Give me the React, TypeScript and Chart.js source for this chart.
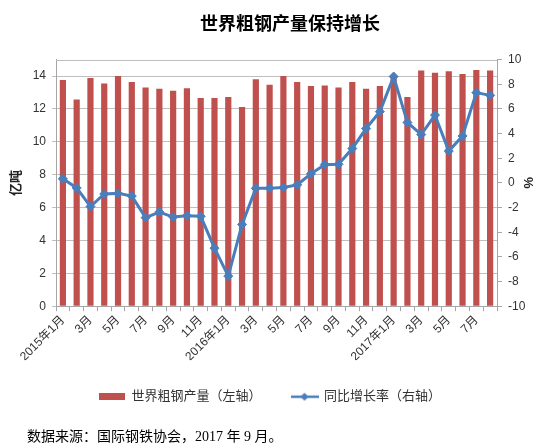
import { useEffect, useRef } from 'react';
import { Chart, registerables } from 'chart.js';

Chart.register(...registerables);

const TITLE = '世界粗钢产量保持增长';
const SOURCE = '数据来源：国际钢铁协会，2017 年 9 月。';
const SERIES_NAMES = ['世界粗钢产量（左轴）', '同比增长率（右轴）'];
const LEFT_AXIS_TITLE = '亿吨';
const RIGHT_AXIS_TITLE = '%';

const MONTHS = [
  '2015年1月', '2月', '3月', '4月', '5月', '6月', '7月', '8月', '9月', '10月', '11月', '12月',
  '2016年1月', '2月', '3月', '4月', '5月', '6月', '7月', '8月', '9月', '10月', '11月', '12月',
  '2017年1月', '2月', '3月', '4月', '5月', '6月', '7月', '8月',
];

// 世界粗钢产量（亿吨）
const PRODUCTION = [
  13.76, 12.57, 13.88, 13.55, 14.0, 13.63, 13.3, 13.22, 13.1, 13.26, 12.67, 12.67,
  12.73, 12.11, 13.8, 13.47, 14.0, 13.63, 13.39, 13.43, 13.3, 13.63, 13.22, 13.39,
  13.9, 12.73, 14.33, 14.2, 14.29, 14.13, 14.37, 14.33,
];

// 同比增长率（%）
const GROWTH = [
  0.33, -0.41, -1.92, -0.9, -0.85, -1.07, -2.82, -2.36, -2.77, -2.66, -2.71, -5.29,
  -7.56, -3.37, -0.44, -0.44, -0.38, -0.16, 0.74, 1.48, 1.51, 2.79, 4.41, 5.78,
  8.63, 4.9, 3.92, 5.5, 2.58, 3.81, 7.32, 7.1,
];

const LEFT_RANGE = [0, 15];
const LEFT_STEP = 2;
const RIGHT_RANGE = [-10, 10];
const RIGHT_STEP = 2;

const RED = '#C0504D';
const BLUE = '#4A7EBB';
const TEXT = '#333333';
const AXIS = '#A6A6A6';
const GRID = '#BFBFBF';
const FONT = '"Liberation Sans", "Noto Sans CJK SC", sans-serif';

export default function App() {
  const ref = useRef<HTMLCanvasElement | null>(null);

  useEffect(() => {
    document.body.style.margin = '0';
    const canvas = ref.current;
    if (!canvas) return;

    const barSwatch = document.createElement('canvas');
    barSwatch.width = 26;
    barSwatch.height = 7;
    {
      const c = barSwatch.getContext('2d')!;
      c.fillStyle = RED;
      c.fillRect(0, 0, 26, 7);
    }
    const lineSwatch = document.createElement('canvas');
    lineSwatch.width = 28;
    lineSwatch.height = 10;
    {
      const c = lineSwatch.getContext('2d')!;
      c.strokeStyle = BLUE;
      c.lineWidth = 2.5;
      c.beginPath();
      c.moveTo(0, 5);
      c.lineTo(28, 5);
      c.stroke();
      c.fillStyle = BLUE;
      c.beginPath();
      c.moveTo(14, 1);
      c.lineTo(18, 5);
      c.lineTo(14, 9);
      c.lineTo(10, 5);
      c.closePath();
      c.fill();
    }

    const layoutTweak = {
      id: 'layoutTweak',
      afterLayout(chart: any) {
        for (const box of chart.boxes) {
          const t = box.options && box.options.text;
          if (t === TITLE) box.left += 40;
          if (t === SOURCE) box.left = 27;
        }
      },
      beforeDatasetsDraw(chart: any) {
        const { ctx, chartArea } = chart;
        ctx.save();
        ctx.strokeStyle = GRID;
        ctx.lineWidth = 1;
        ctx.beginPath();
        ctx.moveTo(chartArea.left, Math.round(chartArea.top) + 0.5);
        ctx.lineTo(chartArea.right, Math.round(chartArea.top) + 0.5);
        ctx.stroke();
        ctx.restore();
      },
    };

    const chart = new Chart(canvas, {
      type: 'bar',
      data: {
        labels: MONTHS,
        datasets: [
          {
            type: 'bar',
            label: SERIES_NAMES[0],
            data: PRODUCTION,
            backgroundColor: RED,
            yAxisID: 'y',
            barPercentage: 0.45,
            categoryPercentage: 1,
            order: 1,
          },
          {
            type: 'line',
            label: SERIES_NAMES[1],
            data: GROWTH,
            borderColor: BLUE,
            backgroundColor: BLUE,
            borderWidth: 3,
            pointStyle: 'rectRot',
            pointRadius: 4.5,
            pointBackgroundColor: BLUE,
            pointBorderColor: BLUE,
            pointBorderWidth: 1,
            tension: 0,
            yAxisID: 'y1',
            order: 0,
          } as any,
        ],
      },
      options: {
        responsive: false,
        animation: false,
        events: [],
        layout: { padding: 0 },
        font: { family: FONT },
        scales: {
          x: {
            type: 'category',
            offset: true,
            grid: { display: true, drawOnChartArea: false, offset: true, tickLength: 5, color: AXIS },
            border: { color: AXIS },
            ticks: {
              autoSkip: false,
              minRotation: 45,
              maxRotation: 45,
              padding: 2,
              color: TEXT,
              font: { size: 12, family: FONT },
              callback: (_v: any, i: number) => (i % 2 === 0 ? MONTHS[i] : ''),
            },
            afterFit: (s: any) => {
              s.height = 54;
            },
          },
          y: {
            position: 'left',
            min: LEFT_RANGE[0],
            max: LEFT_RANGE[1],
            ticks: { stepSize: LEFT_STEP, includeBounds: false, padding: 6, color: TEXT, font: { size: 12, family: FONT } },
            grid: { color: GRID, tickLength: 4 },
            border: { color: AXIS },
            title: {
              display: true,
              text: LEFT_AXIS_TITLE,
              color: '#222222',
              font: { size: 13, weight: 'bold', family: '"Noto Sans CJK SC", sans-serif' },
              padding: { top: 7 },
            },
            afterFit: (s: any) => {
              s.width = 56;
            },
          },
          y1: {
            position: 'right',
            min: RIGHT_RANGE[0],
            max: RIGHT_RANGE[1],
            ticks: { stepSize: RIGHT_STEP, padding: 6, color: TEXT, font: { size: 12, family: FONT } },
            grid: { drawOnChartArea: false, tickLength: 5, color: AXIS },
            border: { color: AXIS },
            title: { display: true, text: RIGHT_AXIS_TITLE, color: '#222222', font: { size: 13, weight: 'bold', family: FONT }, padding: { top: 5 } },
            afterFit: (s: any) => {
              s.width = 43;
            },
          },
        } as any,
        plugins: {
          tooltip: { enabled: false },
          title: {
            display: true,
            text: TITLE,
            color: '#000000',
            font: { size: 18, weight: 'bold', family: '"Noto Sans CJK SC", sans-serif' },
            padding: { top: 12, bottom: 26 },
          },
          subtitle: {
            display: true,
            text: SOURCE,
            position: 'bottom',
            align: 'start',
            color: '#000000',
            font: { size: 14, family: '"Liberation Serif", "Noto Sans CJK SC", serif' },
            padding: { top: 16, bottom: 2 },
          },
          legend: {
            position: 'bottom',
            labels: {
              usePointStyle: true,
              pointStyleWidth: 26,
              padding: 30,
              color: TEXT,
              font: { size: 13, family: FONT },
              generateLabels: () => [
                {
                  text: SERIES_NAMES[0],
                  pointStyle: barSwatch,
                  fillStyle: RED,
                  strokeStyle: RED,
                  lineWidth: 0,
                  hidden: false,
                  datasetIndex: 0,
                  fontColor: TEXT,
                },
                {
                  text: SERIES_NAMES[1],
                  pointStyle: lineSwatch,
                  fillStyle: BLUE,
                  strokeStyle: BLUE,
                  lineWidth: 0,
                  hidden: false,
                  datasetIndex: 1,
                  fontColor: TEXT,
                },
              ] as any,
            },
          },
        } as any,
      },
      plugins: [layoutTweak],
    });

    return () => {
      chart.destroy();
    };
  }, []);

  return (
    <div style={{ position: 'relative', width: 540, height: 448, background: '#ffffff' }}>
      <canvas ref={ref} width={540} height={448} style={{ width: 540, height: 448, display: 'block' }} />
    </div>
  );
}
